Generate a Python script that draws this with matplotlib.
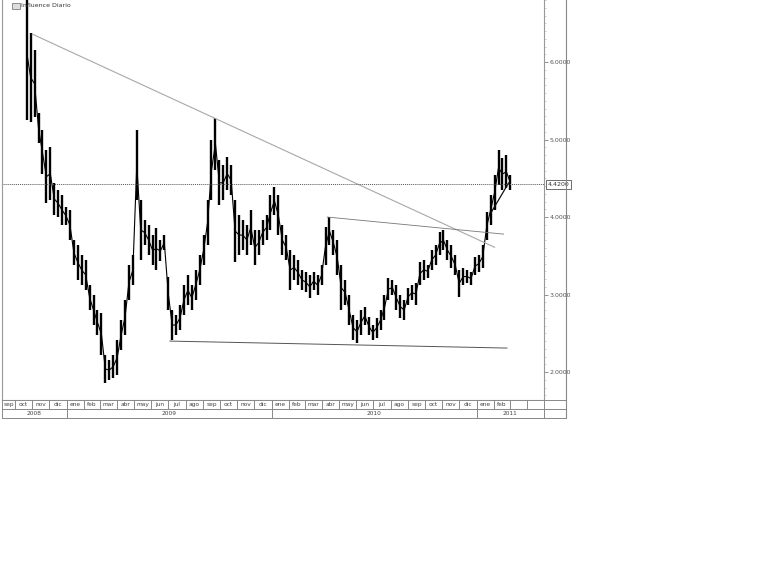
import numpy as np
import pandas as pd
import matplotlib
matplotlib.use('Agg')
import matplotlib.pyplot as plt
import matplotlib.dates as mdates
from matplotlib.ticker import FixedLocator, MultipleLocator
from matplotlib.patches import Rectangle
from matplotlib.lines import Line2D
import matplotlib.transforms as mtransforms

# Weekly price ranges
weeks = pd.date_range('2008-10-22', periods=124, freq='7D')
high = [7.00, 6.37, 6.15, 5.34, 5.12, 4.86, 4.90, 4.44, 4.35, 4.28,
        4.13, 4.09, 3.70, 3.64, 3.51, 3.45, 3.12, 2.99, 2.80, 2.76,
        2.22, 2.15, 2.22, 2.41, 2.67, 2.93, 3.38, 3.51, 5.12, 4.22,
        3.96, 3.90, 3.77, 3.86, 3.70, 3.77, 3.23, 2.80, 2.74, 2.86,
        3.12, 3.25, 3.12, 3.32, 3.51, 3.77, 4.22, 4.99, 5.28, 4.73,
        4.67, 4.77, 4.67, 4.22, 4.03, 3.96, 3.90, 4.09, 3.83, 3.83,
        3.96, 4.03, 4.28, 4.39, 4.28, 3.90, 3.77, 3.57, 3.51, 3.45,
        3.32, 3.29, 3.25, 3.29, 3.25, 3.38, 3.87, 4.00, 3.83, 3.70,
        3.38, 3.19, 2.99, 2.74, 2.67, 2.80, 2.84, 2.71, 2.61, 2.70,
        2.80, 2.99, 3.21, 3.19, 3.12, 2.99, 2.93, 3.08, 3.12, 3.15,
        3.42, 3.45, 3.38, 3.57, 3.64, 3.81, 3.83, 3.70, 3.64, 3.51,
        3.32, 3.34, 3.32, 3.29, 3.48, 3.51, 3.64, 4.06, 4.28, 4.54,
        4.86, 4.76, 4.80, 4.54]
low = [5.25, 5.23, 5.29, 4.95, 4.55, 4.18, 4.22, 4.03, 4.00, 3.90,
       3.90, 3.70, 3.38, 3.19, 3.12, 3.06, 2.80, 2.61, 2.48, 2.22,
       1.86, 1.90, 1.92, 1.96, 2.28, 2.48, 2.93, 3.12, 4.22, 3.45,
       3.64, 3.51, 3.38, 3.32, 3.43, 3.57, 2.80, 2.41, 2.48, 2.54,
       2.74, 2.86, 2.80, 2.93, 3.12, 3.38, 3.64, 4.22, 4.61, 4.15,
       4.22, 4.35, 4.28, 3.42, 3.51, 3.57, 3.51, 3.64, 3.38, 3.51,
       3.64, 3.70, 3.83, 4.03, 3.77, 3.51, 3.45, 3.06, 3.19, 3.12,
       3.06, 3.03, 2.95, 3.06, 2.99, 3.12, 3.38, 3.64, 3.51, 3.25,
       2.80, 2.86, 2.61, 2.41, 2.37, 2.48, 2.61, 2.48, 2.41, 2.44,
       2.54, 2.67, 2.93, 2.99, 2.80, 2.70, 2.67, 2.86, 2.93, 2.86,
       3.12, 3.19, 3.22, 3.32, 3.38, 3.51, 3.57, 3.45, 3.34, 3.25,
       2.97, 3.12, 3.15, 3.12, 3.25, 3.29, 3.34, 3.70, 3.90, 4.09,
       4.41, 4.35, 4.37, 4.35]
last_price = 4.42

# Trend lines drawn on the chart: (start date, start value, end date, end value, colour, width)
trend_lines = [
    ('2008-11-01', 6.36, '2011-02-02', 3.61, '#a8a8a8', 0.8),
    ('2010-04-10', 4.00, '2011-02-18', 3.78, '#777777', 0.6),
    ('2009-07-04', 2.40, '2011-02-24', 2.31, '#555555', 0.7),
    ('2011-01-27', 4.06, '2011-02-27', 4.44, '#111111', 0.9),
]

month_names = ['ene', 'feb', 'mar', 'abr', 'may', 'jun',
               'jul', 'ago', 'sep', 'oct', 'nov', 'dic']
x_start, x_end = pd.Timestamp('2008-09-08'), pd.Timestamp('2011-05-01')
y_min, y_max = 1.64, 6.80
price_ticks = [2, 3, 4, 5, 6]

W, H = 768, 576
fig = plt.figure(figsize=(W / 100, H / 100), dpi=100, facecolor='white')

def fx(px):
    return px / W

def fy(py):
    return 1 - py / H

ax = fig.add_axes([fx(2), fy(400), fx(542), 400 / H])
xd = mdates.date2num(weeks)
ax.vlines(xd, low, high, color='black', lw=1.7)
mid = (np.array(high) + np.array(low)) / 2
ax.plot(xd, mid, color='black', lw=0.8)

for d0, v0, d1, v1, c, lw in trend_lines:
    ax.plot([pd.Timestamp(d0), pd.Timestamp(d1)], [v0, v1], color=c, lw=lw)

ax.axhline(last_price, color='#555555', lw=0.7, ls=(0, (1, 1)))

ax.set_xlim(x_start, x_end)
ax.set_ylim(y_min, y_max)
ax.set_xticks([])
ax.yaxis.tick_right()
ax.yaxis.set_major_locator(FixedLocator(price_ticks))
ax.yaxis.set_minor_locator(MultipleLocator(0.1))
ax.set_yticklabels(['%.4f' % v for v in price_ticks])
ax.tick_params(axis='y', which='major', length=3, width=0.5, color='#666666',
               labelsize=4.5, labelcolor='#555555', pad=1)
ax.tick_params(axis='y', which='minor', length=1.5, width=0.4, color='#aaaaaa')
for s in ax.spines.values():
    s.set_color('#999999')
    s.set_linewidth(0.8)
ax.spines['top'].set_visible(False)

trans = mtransforms.blended_transform_factory(ax.transAxes, ax.transData)
ax.text(1.006, last_price, '%.4f' % last_price, transform=trans, fontsize=4.5,
        color='#333333', va='center', ha='left', clip_on=False,
        bbox=dict(boxstyle='square,pad=0.25', fc='white', ec='#555555', lw=0.6))

# legend label
fig.patches.append(Rectangle((fx(12), fy(9)), fx(8), 6 / H, transform=fig.transFigure,
                             fc='#dddddd', ec='#666666', lw=0.5))
fig.text(fx(21), fy(5.5), 'Influence Diario', fontsize=4.5, color='#333333',
         va='center', ha='left')

# month / year table under the chart
tax = fig.add_axes([fx(2), fy(418), fx(542), 18 / H])
tax.set_xlim(x_start, x_end)
tax.set_ylim(0, 2)
tax.set_xticks([])
tax.set_yticks([])
for s in tax.spines.values():
    s.set_color('#888888')
    s.set_linewidth(0.7)
tax.axhline(1, color='#888888', lw=0.7)

months = pd.date_range('2008-09-01', '2011-05-01', freq='MS')
for i in range(len(months) - 1):
    m0, m1 = months[i], months[i + 1]
    tax.vlines(m0, 1, 2, color='#888888', lw=0.7)
    a, b = max(m0, x_start), min(m1, x_end)
    label = month_names[m0.month - 1]
    if m0 >= pd.Timestamp('2011-03-01'):
        label = ''
    tax.text(a + (b - a) / 2, 1.5, label, fontsize=4.2, color='#444444',
             ha='center', va='center')

for yr in [2008, 2009, 2010, 2011]:
    y0, y1 = pd.Timestamp('%d-01-01' % yr), pd.Timestamp('%d-01-01' % (yr + 1))
    if y0 > x_start:
        tax.vlines(y0, 0, 2, color='#888888', lw=0.7)
    a, b = max(y0, x_start), min(y1, x_end)
    tax.text(a + (b - a) / 2, 0.5, str(yr), fontsize=4.2, color='#444444',
             ha='center', va='center')

# corner cell right of table
cax = fig.add_axes([fx(544), fy(418), fx(22), 18 / H])
cax.set_xticks([])
cax.set_yticks([])
cax.axhline(0.5, color='#888888', lw=0.7)
for s in cax.spines.values():
    s.set_color('#888888')
    s.set_linewidth(0.7)

# outer right border of price scale
fig.add_artist(Line2D([fx(566), fx(566)], [fy(418), 1], transform=fig.transFigure,
                      color='#888888', lw=0.8))

fig.savefig('out.png', dpi=100, facecolor='white')
